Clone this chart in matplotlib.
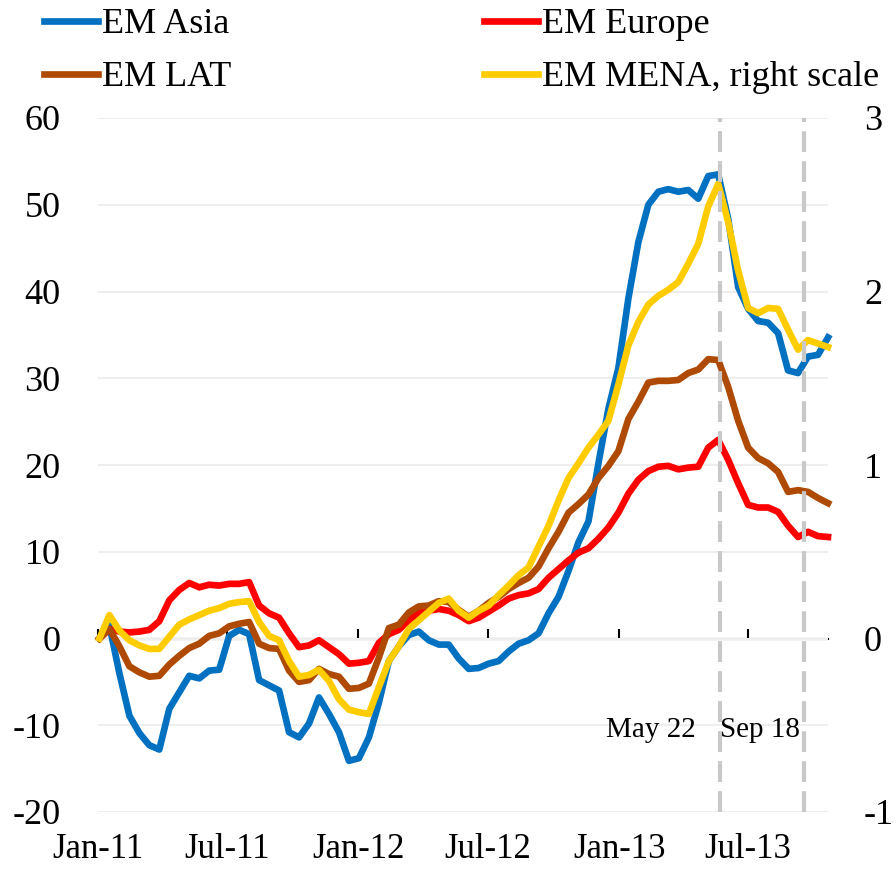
import numpy as np
import pandas as pd
import matplotlib
matplotlib.use('Agg')
import matplotlib.pyplot as plt
import matplotlib.dates as mdates

plt.rcParams['font.family'] = ['Liberation Serif', 'DejaVu Serif']
plt.rcParams['axes.unicode_minus'] = False

# Biweekly observations, Jan 2011 - Oct 2013
dates = pd.date_range('2011-01-03', periods=74, freq='14D')

# Cumulative flows, left scale
em_asia = [0.0, 1.5, -4.0, -8.9, -10.9, -12.3, -12.8, -8.1, -6.2, -4.3,
           -4.6, -3.7, -3.6, 0.3, 1.0, 0.5, -4.8, -5.4, -6.0, -10.8,
           -11.4, -9.8, -6.8, -8.7, -10.8, -14.1, -13.8, -11.4, -7.4, -2.6,
           -0.9, 0.4, 0.8, -0.2, -0.7, -0.7, -2.3, -3.5, -3.4, -2.9,
           -2.6, -1.5, -0.6, -0.2, 0.6, 2.9, 4.8, 7.8, 11.1, 13.5,
           20.2, 26.5, 31.2, 39.2, 45.7, 50.0, 51.5, 51.8, 51.5, 51.7,
           50.7, 53.3, 53.5, 48.4, 40.5, 38.0, 36.6, 36.4, 35.2, 30.9,
           30.6, 32.5, 32.7, 34.7]

em_europe = [0.0, 1.1, 0.8, 0.7, 0.8, 1.0, 2.0, 4.4, 5.6, 6.4,
             5.9, 6.2, 6.1, 6.3, 6.3, 6.5, 3.8, 2.9, 2.4, 0.6,
             -1.0, -0.8, -0.2, -1.0, -1.8, -2.9, -2.8, -2.6, -0.5, 0.5,
             1.0, 2.1, 3.0, 3.2, 3.4, 3.2, 2.7, 2.0, 2.4, 3.1,
             3.8, 4.6, 5.0, 5.2, 5.7, 7.0, 8.0, 9.0, 9.9, 10.4,
             11.5, 12.8, 14.5, 16.7, 18.3, 19.3, 19.8, 19.9, 19.5, 19.7,
             19.8, 22.0, 22.9, 20.6, 17.9, 15.4, 15.1, 15.1, 14.6, 13.0,
             11.7, 12.3, 11.8, 11.7]

em_lat = [0.0, 1.1, -0.9, -3.2, -3.9, -4.4, -4.3, -3.0, -2.0, -1.1,
          -0.6, 0.3, 0.6, 1.4, 1.7, 1.9, -0.6, -1.1, -1.2, -3.7,
          -5.0, -4.8, -3.5, -4.1, -4.4, -5.8, -5.7, -5.2, -2.2, 1.2,
          1.6, 3.0, 3.7, 3.8, 4.3, 4.2, 3.3, 2.5, 3.2, 4.1,
          4.8, 5.7, 6.4, 7.0, 8.3, 10.4, 12.3, 14.5, 15.5, 16.6,
          18.5, 19.9, 21.6, 25.3, 27.3, 29.5, 29.7, 29.7, 29.8, 30.6,
          31.0, 32.2, 32.1, 29.0, 25.1, 22.0, 20.8, 20.2, 19.2, 16.9,
          17.1, 16.9, 16.2, 15.6]

# right scale
em_mena = [0.0, 0.135, 0.045, -0.01, -0.04, -0.06, -0.06, 0.01, 0.08, 0.11,
           0.135, 0.16, 0.175, 0.20, 0.21, 0.215, 0.095, 0.015, -0.01, -0.13,
           -0.22, -0.21, -0.18, -0.245, -0.35, -0.41, -0.425, -0.435, -0.28, -0.13,
           -0.045, 0.055, 0.105, 0.155, 0.205, 0.23, 0.16, 0.12, 0.16, 0.19,
           0.25, 0.305, 0.365, 0.41, 0.53, 0.65, 0.795, 0.925, 1.01, 1.10,
           1.175, 1.255, 1.465, 1.69, 1.825, 1.925, 1.975, 2.01, 2.055, 2.16,
           2.275, 2.49, 2.62, 2.40, 2.12, 1.905, 1.875, 1.905, 1.90, 1.78,
           1.665, 1.72, 1.70, 1.68]

tick_dates = ['2011-01-01', '2011-07-01', '2012-01-01', '2012-07-01',
              '2013-01-01', '2013-07-01']
tick_labels = ['Jan-11', 'Jul-11', 'Jan-12', 'Jul-12', 'Jan-13', 'Jul-13']
events = ['2013-05-22', '2013-09-18']
event_labels = ['May 22', 'Sep 18']

x = mdates.date2num(dates)
xt = mdates.date2num(pd.to_datetime(tick_dates))
xe = mdates.date2num(pd.to_datetime(events))

fig = plt.figure(figsize=(8.96, 8.69), dpi=100)
ax = fig.add_axes([98/896, 1 - 812/869, 730/896, 694/869])
ax2 = ax.twinx()

lw = 4.8
l1, = ax.plot(x, em_asia, color='#0070C0', lw=lw, solid_joinstyle='round', clip_on=False)
l2, = ax.plot(x, em_europe, color='#FF0000', lw=lw, solid_joinstyle='round', clip_on=False)
l3, = ax.plot(x, em_lat, color='#AE4A04', lw=lw, solid_joinstyle='round', clip_on=False)
l4, = ax2.plot(x, em_mena, color='#FFCC00', lw=lw, solid_joinstyle='round', clip_on=False)

ax.set_xlim(mdates.date2num(pd.Timestamp('2011-01-01')),
            mdates.date2num(pd.Timestamp('2013-10-21')))
ax.set_ylim(-20, 60)
ax.set_yticks(np.arange(-20, 61, 10))
ax2.set_ylim(-1, 3)
ax2.set_yticks(np.arange(-1, 4, 1))

ax.set_xticks(xt)
ax.set_xticklabels(tick_labels)
ax.yaxis.grid(True, color='#eeeeee', lw=1.5)
ax.set_axisbelow(True)

for a in (ax, ax2):
    for s in a.spines.values():
        s.set_visible(False)
ax.tick_params(axis='x', length=0, labelsize=25, pad=15)
ax.tick_params(axis='y', length=0, labelsize=26, pad=27)
ax2.tick_params(axis='y', length=0, labelsize=26, pad=26)

# zero line with tick marks
sec = ax.secondary_xaxis(0.25)
sec.set_xticks(xt)
sec.tick_params(direction='in', length=7, width=1.5, labelbottom=False)
sec.spines['bottom'].set_linewidth(1.5)

for xv in xe:
    ax2.axvline(xv, color='#c8c8c8', lw=3, dashes=(5, 2.2), zorder=5)
ax.annotate(event_labels[0], xy=(xe[0], -10.6), xytext=(-17, 0),
            textcoords='offset points', ha='right', va='center', fontsize=21)
ax.annotate(event_labels[1], xy=(xe[1], -10.6), xytext=(-3, 0),
            textcoords='offset points', ha='right', va='center', fontsize=21)

fig.legend([l1, l3, l2, l4],
           ['EM Asia', 'EM LAT', 'EM Europe', 'EM MENA, right scale'],
           loc='upper left', bbox_to_anchor=(44/896, 1 - 8/869), ncol=2,
           frameon=False, fontsize=26, handlelength=1.5, handletextpad=0.1,
           columnspacing=7.0, labelspacing=0.55, borderpad=0, borderaxespad=0)

fig.savefig('out.png', dpi=100)
